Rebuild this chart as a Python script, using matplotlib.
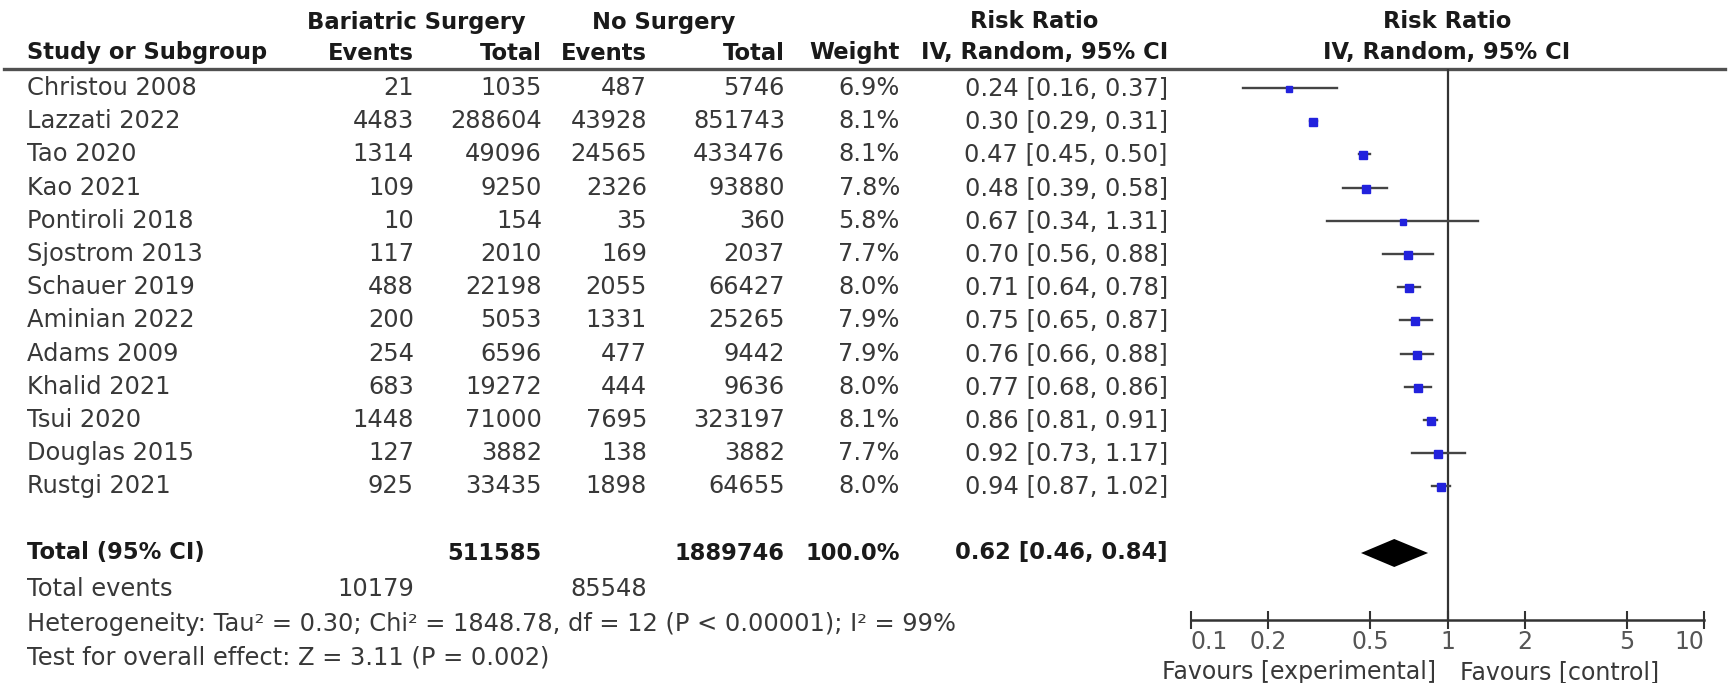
import matplotlib
matplotlib.use("Agg")
import matplotlib.pyplot as plt
from matplotlib.lines import Line2D

studies = ["Christou 2008", "Lazzati 2022", "Tao 2020", "Kao 2021", "Pontiroli 2018",
           "Sjostrom 2013", "Schauer 2019", "Aminian 2022", "Adams 2009", "Khalid 2021",
           "Tsui 2020", "Douglas 2015", "Rustgi 2021"]
surg_events = [21, 4483, 1314, 109, 10, 117, 488, 200, 254, 683, 1448, 127, 925]
surg_total = [1035, 288604, 49096, 9250, 154, 2010, 22198, 5053, 6596, 19272, 71000, 3882, 33435]
ctrl_events = [487, 43928, 24565, 2326, 35, 169, 2055, 1331, 477, 444, 7695, 138, 1898]
ctrl_total = [5746, 851743, 433476, 93880, 360, 2037, 66427, 25265, 9442, 9636, 323197, 3882, 64655]
weights = [6.9, 8.1, 8.1, 7.8, 5.8, 7.7, 8.0, 7.9, 7.9, 8.0, 8.1, 7.7, 8.0]
rr = [0.24, 0.30, 0.47, 0.48, 0.67, 0.70, 0.71, 0.75, 0.76, 0.77, 0.86, 0.92, 0.94]
rr_lo = [0.16, 0.29, 0.45, 0.39, 0.34, 0.56, 0.64, 0.65, 0.66, 0.68, 0.81, 0.73, 0.87]
rr_hi = [0.37, 0.31, 0.50, 0.58, 1.31, 0.88, 0.78, 0.87, 0.88, 0.86, 0.91, 1.17, 1.02]
total_surg = 511585
total_ctrl = 1889746
total_weight = "100.0%"
total_events_surg = 10179
total_events_ctrl = 85548
pooled = (0.62, 0.46, 0.84)
heterogeneity = "Heterogeneity: Tau² = 0.30; Chi² = 1848.78, df = 12 (P < 0.00001); I² = 99%"
overall = "Test for overall effect: Z = 3.11 (P = 0.002)"
tick_vals = [0.1, 0.2, 0.5, 1, 2, 5, 10]
tick_labels = ["0.1", "0.2", "0.5", "1", "2", "5", "10"]

W, H = 1729, 683
plt.rcParams['font.family'] = ['DejaVu Sans']
fig = plt.figure(figsize=(W / 100, H / 100), dpi=100)
fig.patch.set_facecolor("white")

FS = 17.4
FSB = 16.3
TXT = "#383838"
HDR = "#1a1a1a"

# text layer in pixel coordinates
at = fig.add_axes([0, 0, 1, 1])
at.set_xlim(0, W)
at.set_ylim(H, 0)
at.axis("off")

# column anchors (pixels)
x_study = 27
x_e1 = 414
x_n1 = 542
x_e2 = 647
x_n2 = 785
x_w = 900
x_ci = 1168
x_plot_c = 1447

y_h1, y_h2, y_line = 22, 53, 69
y0, dy = 88, 33.2
y_total = 553
y_tev = 589
y_het = 624
y_test = 658

# headers
hk = dict(fontsize=FSB, fontweight="bold", color=HDR, va="center")
at.text(416, y_h1, "Bariatric Surgery", ha="center", **hk)
at.text(664, y_h1, "No Surgery", ha="center", **hk)
at.text(1034, y_h1, "Risk Ratio", ha="center", **hk)
at.text(x_plot_c, y_h1, "Risk Ratio", ha="center", **hk)
at.text(x_study, y_h2, "Study or Subgroup", ha="left", **hk)
at.text(x_e1, y_h2, "Events", ha="right", **hk)
at.text(x_n1, y_h2, "Total", ha="right", **hk)
at.text(x_e2, y_h2, "Events", ha="right", **hk)
at.text(x_n2, y_h2, "Total", ha="right", **hk)
at.text(x_w, y_h2, "Weight", ha="right", **hk)
at.text(x_ci, y_h2, "IV, Random, 95% CI", ha="right", **hk)
at.text(x_plot_c, y_h2, "IV, Random, 95% CI", ha="center", **hk)
at.add_line(Line2D([4, 1725], [y_line, y_line], color="#505050", lw=2.4))

rk = dict(fontsize=FS, color=TXT, va="center")
for i, s in enumerate(studies):
    y = y0 + i * dy
    at.text(x_study, y, s, ha="left", **rk)
    at.text(x_e1, y, f"{surg_events[i]}", ha="right", **rk)
    at.text(x_n1, y, f"{surg_total[i]}", ha="right", **rk)
    at.text(x_e2, y, f"{ctrl_events[i]}", ha="right", **rk)
    at.text(x_n2, y, f"{ctrl_total[i]}", ha="right", **rk)
    at.text(x_w, y, f"{weights[i]:.1f}%", ha="right", **rk)
    at.text(x_ci, y, f"{rr[i]:.2f} [{rr_lo[i]:.2f}, {rr_hi[i]:.2f}]", ha="right", **rk)

bk = dict(fontsize=FSB, fontweight="bold", color=HDR, va="center")
at.text(x_study, y_total, "Total (95% CI)", ha="left", **bk)
at.text(x_n1, y_total, f"{total_surg}", ha="right", **bk)
at.text(x_n2, y_total, f"{total_ctrl}", ha="right", **bk)
at.text(x_w, y_total, total_weight, ha="right", **bk)
at.text(x_ci, y_total, f"{pooled[0]:.2f} [{pooled[1]:.2f}, {pooled[2]:.2f}]", ha="right", **bk)

at.text(x_study, y_tev, "Total events", ha="left", **rk)
at.text(x_e1, y_tev, f"{total_events_surg}", ha="right", **rk)
at.text(x_e2, y_tev, f"{total_events_ctrl}", ha="right", **rk)
at.text(x_study, y_het, heterogeneity, ha="left", **rk)
at.text(x_study, y_test, overall, ha="left", **rk)

# forest plot axes: x log 0.1..10 between pixel 1191 and 1704; y in pixels
px_l, px_r = 1191, 1704
y_axis = 620
ax = fig.add_axes([px_l / W, (H - y_axis) / H, (px_r - px_l) / W, (y_axis - y_line) / H])
ax.set_xscale("log")
ax.set_xlim(0.1, 10)
ax.set_ylim(y_axis, y_line)
ax.patch.set_alpha(0)
for sp in ["top", "left", "right"]:
    ax.spines[sp].set_visible(False)
ax.spines["bottom"].set_color("#333333")
ax.spines["bottom"].set_linewidth(1.8)
ax.set_yticks([])
ax.set_xticks(tick_vals)
ax.set_xticklabels(tick_labels)
ax.minorticks_off()
ax.tick_params(axis="x", direction="inout", length=13, width=1.5, color="#333333",
               labelsize=17, labelcolor="#555555", pad=1)
tl = ax.get_xticklabels()
tl[0].set_horizontalalignment("left")
tl[-1].set_horizontalalignment("right")

ax.axvline(1, color="#333333", lw=1.6, zorder=1)

ys = [y0 + i * dy for i in range(len(studies))]
for i in range(len(studies)):
    ax.plot([rr_lo[i], rr_hi[i]], [ys[i], ys[i]], color="#444444", lw=1.7, zorder=2)
    ax.plot(rr[i], ys[i] + 1, marker="s", ms=weights[i] * 0.68, color="#2222dd",
            mec="#2222dd", zorder=3, ls="none")

# pooled diamond
ax.fill([pooled[1], pooled[0], pooled[2], pooled[0]],
        [y_total, y_total - 14, y_total, y_total + 14], color="black", zorder=3, lw=0)

fk = dict(fontsize=17, color=TXT, va="center")
at.text(1436, 672, "Favours [experimental]", ha="right", **fk)
at.text(1460, 672, "Favours [control]", ha="left", **fk)

fig.savefig("out.png", dpi=100, facecolor="white")
